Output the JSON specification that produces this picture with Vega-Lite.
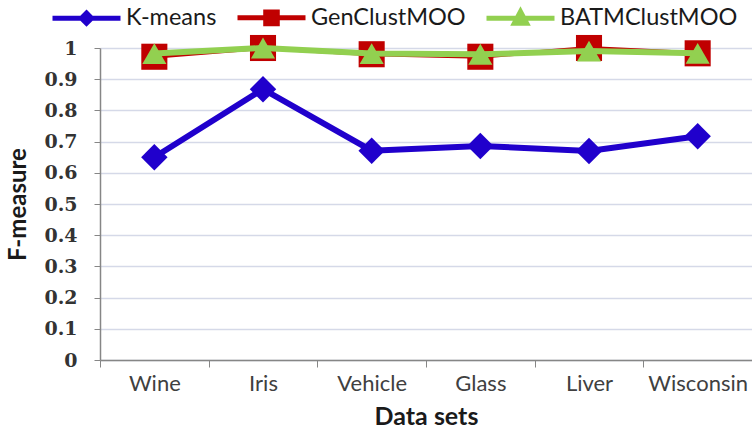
{
  "$schema": "https://vega.github.io/schema/vega-lite/v6.json",
  "width": 652,
  "height": 312,
  "autosize": "none",
  "padding": {"left": 100, "top": 48, "right": 0, "bottom": 76},
  "background": "white",
  "data": {
    "values": [
      {"dataset": "Wine", "series": "K-means", "fmeasure": 0.65},
      {"dataset": "Iris", "series": "K-means", "fmeasure": 0.868},
      {"dataset": "Vehicle", "series": "K-means", "fmeasure": 0.671},
      {"dataset": "Glass", "series": "K-means", "fmeasure": 0.686},
      {"dataset": "Liver", "series": "K-means", "fmeasure": 0.67},
      {"dataset": "Wisconsin", "series": "K-means", "fmeasure": 0.717},
      {"dataset": "Wine", "series": "GenClustMOO", "fmeasure": 0.972},
      {"dataset": "Iris", "series": "GenClustMOO", "fmeasure": 1.0},
      {"dataset": "Vehicle", "series": "GenClustMOO", "fmeasure": 0.98},
      {"dataset": "Glass", "series": "GenClustMOO", "fmeasure": 0.972},
      {"dataset": "Liver", "series": "GenClustMOO", "fmeasure": 1.0},
      {"dataset": "Wisconsin", "series": "GenClustMOO", "fmeasure": 0.983},
      {"dataset": "Wine", "series": "BATMClustMOO", "fmeasure": 0.982},
      {"dataset": "Iris", "series": "BATMClustMOO", "fmeasure": 1.0},
      {"dataset": "Vehicle", "series": "BATMClustMOO", "fmeasure": 0.982},
      {"dataset": "Glass", "series": "BATMClustMOO", "fmeasure": 0.98},
      {"dataset": "Liver", "series": "BATMClustMOO", "fmeasure": 0.99},
      {"dataset": "Wisconsin", "series": "BATMClustMOO", "fmeasure": 0.983}
    ]
  },
  "encoding": {
    "x": {
      "field": "dataset",
      "type": "nominal",
      "sort": ["Wine", "Iris", "Vehicle", "Glass", "Liver", "Wisconsin"],
      "scale": {"type": "band", "paddingInner": 0, "paddingOuter": 0},
      "axis": {
        "tickBand": "extent",
        "grid": false,
        "domainColor": "#868686",
        "domainWidth": 1.5,
        "tickColor": "#868686",
        "tickSize": 7,
        "labelAngle": 0,
        "labelFont": "Lato",
        "labelFontSize": 22,
        "labelColor": "#404040",
        "labelPadding": 6,
        "title": "Data sets",
        "titleFont": "Lato",
        "titleFontSize": 25,
        "titleFontWeight": "bold",
        "titleColor": "#1a1a1a",
        "titlePadding": 10
      }
    },
    "y": {
      "field": "fmeasure",
      "type": "quantitative",
      "scale": {"domain": [0, 1]},
      "axis": {
        "values": [0, 0.1, 0.2, 0.3, 0.4, 0.5, 0.6, 0.7, 0.8, 0.9, 1],
        "format": ".1~f",
        "grid": true,
        "gridColor": "#D5D9E8",
        "gridWidth": 1.5,
        "domainColor": "#868686",
        "domainWidth": 1.5,
        "tickColor": "#868686",
        "tickSize": 6,
        "labelFont": "DejaVu Serif",
        "labelFontWeight": "bold",
        "labelFontSize": 19,
        "labelColor": "#333333",
        "labelPadding": 17,
        "title": "F-measure",
        "titleFont": "Lato",
        "titleFontSize": 24,
        "titleFontWeight": "bold",
        "titleColor": "#1a1a1a",
        "titlePadding": 13
      }
    },
    "color": {
      "field": "series",
      "type": "nominal",
      "scale": {"domain": ["K-means", "GenClustMOO", "BATMClustMOO"], "range": ["#2000CC", "#C00000", "#92D050"]},
      "legend": {
        "title": null,
        "orient": "none",
        "legendX": -50,
        "legendY": -67,
        "direction": "horizontal",
        "symbolSize": 4624,
        "symbolStrokeWidth": 5,
        "labelFont": "Lato",
        "labelFontSize": 23.5,
        "labelColor": "#1a1a1a",
        "labelOffset": 3,
        "labelLimit": 300,
        "columnPadding": 10,
        "padding": 0,
        "encode": {
          "symbols": {
            "update": {
              "shape": {"signal": "datum.value == 'K-means' ? 'M-1,0H1M0,-0.15L0.15,0L0,0.15L-0.15,0Z' : datum.value == 'GenClustMOO' ? 'M-1,0H1M-0.17,-0.17H0.17V0.17H-0.17Z' : 'M-1,0H1M0,-0.2L0.18,0.14H-0.18Z'"},
              "fill": {"signal": "datum.value == 'K-means' ? '#2000CC' : datum.value == 'GenClustMOO' ? '#C00000' : '#92D050'"},
              "stroke": {"signal": "datum.value == 'K-means' ? '#2000CC' : datum.value == 'GenClustMOO' ? '#C00000' : '#92D050'"},
              "strokeWidth": {"value": 5},
              "opacity": {"value": 1}
            }
          }
        }
      }
    }
  },
  "layer": [
    {
      "transform": [{"filter": "datum.series == 'K-means'"}],
      "mark": {"type": "line", "strokeWidth": 6}
    },
    {
      "transform": [{"filter": "datum.series == 'K-means'"}],
      "mark": {"type": "point", "filled": true, "opacity": 1, "shape": "diamond", "size": 700}
    },
    {
      "transform": [{"filter": "datum.series == 'GenClustMOO'"}],
      "mark": {"type": "line", "strokeWidth": 4}
    },
    {
      "transform": [{"filter": "datum.series == 'GenClustMOO'"}],
      "mark": {"type": "point", "filled": true, "opacity": 1, "shape": "square", "size": 680}
    },
    {
      "transform": [{"filter": "datum.series == 'BATMClustMOO'"}],
      "mark": {"type": "line", "strokeWidth": 6}
    },
    {
      "transform": [{"filter": "datum.series == 'BATMClustMOO'"}],
      "mark": {"type": "point", "filled": true, "opacity": 1, "shape": "triangle-up", "size": 580}
    }
  ],
  "config": {
    "view": {"stroke": null}
  }
}
